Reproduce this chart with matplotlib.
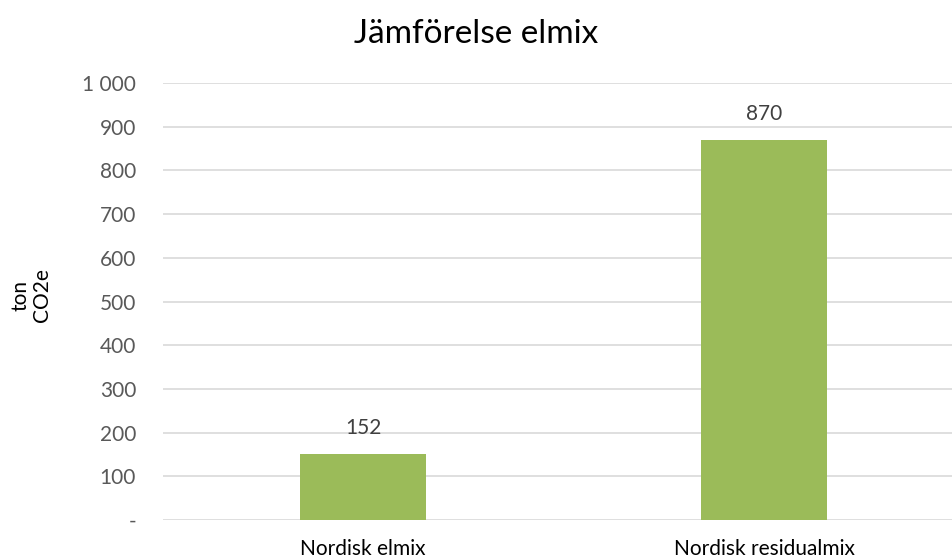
import matplotlib
matplotlib.use("Agg")
import matplotlib.pyplot as plt
from matplotlib.ticker import FuncFormatter

plt.rcParams['font.family'] = ['Lato', 'DejaVu Sans']

categories = ["Nordisk elmix", "Nordisk residualmix"]
values = [152, 870]
yticks = [0, 100, 200, 300, 400, 500, 600, 700, 800, 900, 1000]

grey = "#595959"

fig = plt.figure(figsize=(9.52, 5.6), dpi=100)
ax = fig.add_axes([0.1707, 0.0714, 0.8424, 0.7804])

x = range(len(categories))
bars = ax.bar(x, values, width=0.314, color="#9BBB59", zorder=3)
for b, v in zip(bars, values):
    ax.text(b.get_x() + b.get_width() / 2, v + 36, str(v), ha="center", va="bottom",
            fontsize=15, color="#404040")

ax.set_xlim(-0.5, 1.5)
ax.set_ylim(0, 1000)
ax.set_yticks(yticks)


def fmt(v, pos):
    if v == 0:
        return "-"
    return "{:,.0f}".format(v).replace(",", " ")


ax.yaxis.set_major_formatter(FuncFormatter(fmt))
ax.set_xticks(list(x))
ax.set_xticklabels(categories)
ax.tick_params(axis="both", length=0, labelsize=15, colors=grey, labelcolor=grey)
ax.tick_params(axis="y", pad=19)
ax.tick_params(axis="x", pad=14)
for lbl in ax.get_xticklabels():
    lbl.set_color("black")
ax.grid(axis="y", color="#D9D9D9", linewidth=1.2, zorder=0)
for s in ax.spines.values():
    s.set_visible(False)

fig.text(0.033, 0.473, "ton\nCO2e", rotation=90, ha="center", va="center",
         fontsize=15, color="black", linespacing=1.1)
fig.text(0.5, 0.94, "Jämförelse elmix", ha="center", va="center",
         fontsize=24, color="black")

fig.savefig("out.png", dpi=100)
